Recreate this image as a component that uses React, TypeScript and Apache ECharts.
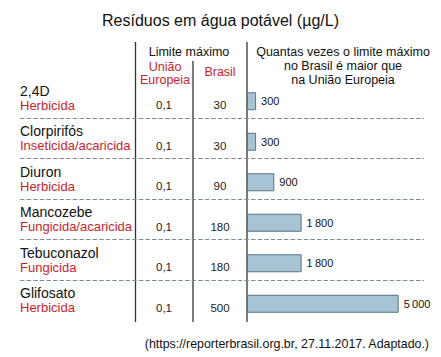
import React, { useEffect, useRef } from "react";
import * as echarts from "echarts";

const names = ["2,4D", "Clorpirifós", "Diuron", "Mancozebe", "Tebuconazol", "Glifosato"];
const types = ["Herbicida", "Inseticida/acaricida", "Herbicida", "Fungicida/acaricida", "Fungicida", "Herbicida"];
const limitEU = ["0,1", "0,1", "0,1", "0,1", "0,1", "0,1"];
const limitBR = ["30", "30", "90", "180", "180", "500"];
const ratio = [300, 300, 900, 1800, 1800, 5000];

const RED = "#c4262e";
const FONT = "Liberation Sans, Arial, sans-serif";

function fmt(v: number): string {
  const s = String(v);
  return s.length > 3 ? s.slice(0, s.length - 3) + "\u2009" + s.slice(s.length - 3) : s;
}

export default function App() {
  const ref = useRef<HTMLDivElement>(null);
  useEffect(() => {
    if (!ref.current) return;
    const chart = echarts.init(ref.current, null, { renderer: "svg" });
    const vline = (x: number, y1: number, y2: number) => ({
      type: "line",
      shape: { x1: x, y1, x2: x, y2 },
      style: { stroke: "#333", lineWidth: 1.3 },
    });
    const txt = (x: number, y: number, text: string, fill = "#111", size = 12.5, align = "center") => ({
      type: "text",
      x,
      y,
      style: { text, fill, font: `${size}px ${FONT}`, textAlign: align, textVerticalAlign: "middle" },
    });
    chart.setOption({
      animation: false,
      textStyle: { fontFamily: FONT },
      title: {
        text: "Resíduos em água potável (µg/L)",
        left: "center",
        top: 7,
        textStyle: { fontSize: 16, fontWeight: "normal", color: "#111", fontFamily: FONT },
      },
      grid: [
        { left: 247, right: 42.3, top: 81, height: 243, outerBoundsMode: "none" },
        { left: 20, right: 17, top: 77.5, height: 243, outerBoundsMode: "none" },
      ],
      xAxis: [
        { type: "value", gridIndex: 0, min: 0, max: 5000, show: false },
        { type: "value", gridIndex: 1, min: 0, max: 1, show: false },
      ],
      yAxis: [
        {
          type: "category",
          gridIndex: 0,
          inverse: true,
          data: names,
          axisLine: { show: false },
          axisTick: { show: false },
          axisLabel: { show: false },
          splitLine: { show: false },
        },
        {
          type: "category",
          gridIndex: 1,
          inverse: true,
          data: names,
          axisLine: { show: false },
          axisTick: { show: false },
          splitLine: {
            show: true,
            interval: 0,
            showMinLine: false,
            showMaxLine: false,
            lineStyle: { color: "#7d8e99", width: 1.2, type: [4.5, 2.1] },
          },
          axisLabel: {
            show: true,
            interval: 0,
            align: "left",
            margin: 0,
            formatter: (_v: string, i: number) =>
              `{n|${names[i]}}\n{c|${types[i]}}{eu|${limitEU[i]}}{br|${limitBR[i]}}`,
            rich: {
              n: { fontSize: 14, lineHeight: 15, color: "#111", fontFamily: FONT },
              c: { fontSize: 13, lineHeight: 14, color: RED, width: 115, fontFamily: FONT },
              eu: { fontSize: 11.5, lineHeight: 14, color: "#222", width: 58, align: "center", fontFamily: FONT },
              br: { fontSize: 11.5, lineHeight: 14, color: "#222", width: 54, align: "center", fontFamily: FONT },
            },
          },
        },
      ],
      series: [
        {
          type: "bar",
          xAxisIndex: 0,
          yAxisIndex: 0,
          data: ratio,
          barWidth: 18,
          itemStyle: { color: "#a7c3d4", borderColor: "#5a7282", borderWidth: 1 },
          label: {
            show: true,
            position: "right",
            distance: 5,
            fontSize: 11,
            color: "#111",
            fontFamily: FONT,
            formatter: (p: any) => fmt(p.value),
          },
        },
      ],
      graphic: [
        vline(135.5, 42, 322),
        vline(193, 61, 322),
        vline(247, 42, 322),
        txt(189, 52, "Limite máximo"),
        txt(165, 67, "União", RED),
        txt(165, 80, "Europeia", RED),
        txt(220, 72, "Brasil", RED),
        txt(343, 52, "Quantas vezes o limite máximo"),
        txt(343, 66, "no Brasil é maior que"),
        txt(343, 80, "na União Europeia"),
        txt(429, 344, "(https://reporterbrasil.org.br, 27.11.2017. Adaptado.)", "#111", 12.4, "right"),
      ],
    });
    return () => chart.dispose();
  }, []);
  return <div ref={ref} style={{ width: 441, height: 357, position: "absolute", left: 0, top: 0 }} />;
}
